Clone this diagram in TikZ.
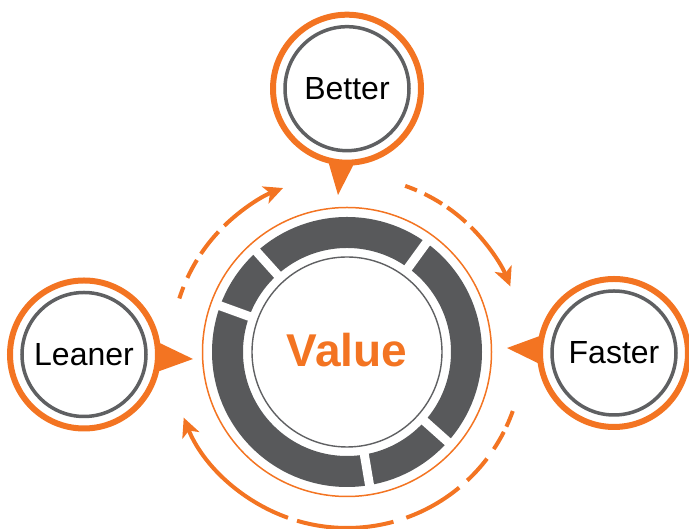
\documentclass[tikz,border=0pt]{standalone}
\usepackage{fontspec}
\setmainfont{Liberation Sans}
\usetikzlibrary{arrows.meta}
\definecolor{leanorange}{RGB}{243,116,34}
\definecolor{bandgray}{RGB}{88,89,91}
\definecolor{rimgray}{RGB}{95,96,98}

\begin{document}
\begin{tikzpicture}
    [ x=1pt, y=1pt,
      font={\fontsize{32}{38}\selectfont},
      bubble/.style={circle, draw=leanorange, line width=6pt, fill=white,
                     minimum size=148pt, inner sep=0pt, outer sep=0pt},
      bubbleline/.style={draw=rimgray, line width=3.5pt},
      pointer/.style={fill=leanorange},
      rim/.style={draw=leanorange, line width=1.5pt},
      core/.style={draw=rimgray, line width=1.4pt},
      band/.style={draw=bandgray, line width=31pt},
      notch/.style={draw=white, line width=9pt},
      flow/.style={draw=leanorange, line width=4pt},
      flowhead/.style={flow, -{Stealth[length=19pt, width=18pt, inset=5pt]}},
      valuetext/.style={text=leanorange, font={\bfseries\fontsize{46}{55}\selectfont}}
    ]
    \useasboundingbox (0, 0) rectangle (689, 529);
    \def\r{176}

    \coordinate (hub) at (347, 177);

    % Hub ring
    \draw[band] (hub) circle (119.5);
    \foreach \a in {54, 132, 160, 279.6, 318.3} {
        \draw[notch] (hub) ++(\a:100) -- ++(\a:40);
    }
    \draw[rim] (hub) circle (144.5);
    \draw[core] (hub) circle (95);
    \node[valuetext, yshift=2pt] (value) at (hub) {Value};

    % Bubbles
    \foreach \name/\x/\y/\txt in {better/347/440.3/Better,
                                  leaner/84/174.5/Leaner,
                                  faster/614/176/Faster} {
        \node[bubble] (\name) at (\x, \y) {\txt};
        \draw[bubbleline] (\name.center) circle (62);
    }

    % Pointers
    \fill[pointer] (better.255) -- (338, 334) -- (better.276) -- cycle;
    \fill[pointer] (leaner.-14) -- (193, 170) -- (leaner.10) -- cycle;
    \fill[pointer] (faster.166) -- (507, 181) -- (faster.189) -- cycle;

    % Flow arcs, upper left
    \foreach \a/\b in {162.3/158.3, 155.1/148.5, 146.1/136.9} {
        \draw[flow] (hub) ++(\a:\r) arc[start angle=\a, end angle=\b, radius=\r];
    }
    \draw[flowhead] (hub) ++(134.2:\r) arc[start angle=134.2, end angle=111.3, radius=\r];

    % Flow arcs, upper right
    \foreach \a/\b in {70.7/66.6, 63.9/57.3, 55.3/47.5} {
        \draw[flow] (hub) ++(\a:\r) arc[start angle=\a, end angle=\b, radius=\r];
    }
    \draw[flowhead] (hub) ++(45.2:\r) arc[start angle=45.2, end angle=21.9, radius=\r];

    % Flow arcs, bottom
    \foreach \a/\b in {-19.6/-25.1, -27/-33.5, -37.3/-46.9, -50.4/-70.3, -74.7/-106.5} {
        \draw[flow] (hub) ++(\a:\r) arc[start angle=\a, end angle=\b, radius=\r];
    }
    \draw[flowhead] (hub) ++(-109.6:\r) arc[start angle=-109.6, end angle=-158.1, radius=\r];

\end{tikzpicture}
\end{document}
